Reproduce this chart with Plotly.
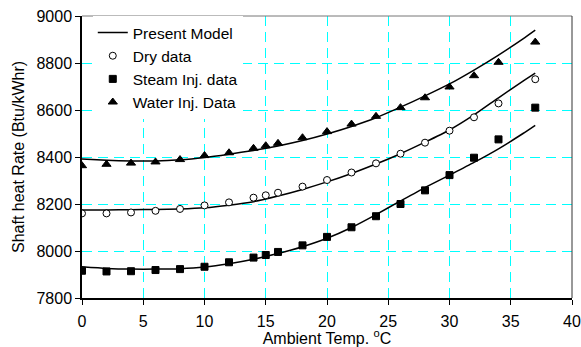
import plotly.graph_objects as go

# Data
temp_data = [0, 2, 4, 6, 8, 10, 12, 14, 15, 16, 18, 20, 22, 24, 26, 28, 30, 32, 34, 37]
dry_data = [8160, 8160, 8164, 8171, 8179, 8194, 8207, 8227, 8237, 8248,
            8274, 8302, 8334, 8373, 8414, 8461, 8512, 8569, 8628, 8731]
steam_data = [7916, 7913, 7914, 7919, 7923, 7933, 7952, 7972, 7983, 7996,
              8024, 8060, 8101, 8148, 8200, 8258, 8323, 8397, 8475, 8610]
water_data = [8363, 8369, 8374, 8379, 8389, 8406, 8418, 8437, 8448, 8458,
              8482, 8508, 8540, 8573, 8610, 8652, 8698, 8746, 8803, 8889]

temp_model = [0, 2, 4, 6, 8, 10, 12, 14, 16, 18, 20, 22, 24, 26, 28, 30, 32, 34, 36, 37]
dry_model = [8174, 8175, 8176, 8177, 8179, 8184, 8195, 8210, 8234, 8262,
             8294, 8330, 8370, 8414, 8463, 8515, 8579, 8652, 8723, 8757]
steam_model = [7933, 7926, 7923, 7923, 7925, 7932, 7946, 7965, 7989, 8018,
               8054, 8100, 8155, 8213, 8270, 8323, 8377, 8435, 8500, 8535]
water_model = [8391, 8386, 8383, 8383, 8388, 8398, 8412, 8428, 8447, 8470,
               8498, 8530, 8567, 8612, 8660, 8711, 8770, 8834, 8903, 8940]

x_ticks = [0, 5, 10, 15, 20, 25, 30, 35, 40]
y_ticks = [7800, 8000, 8200, 8400, 8600, 8800, 9000]

FONT = "Liberation Sans, Arial, sans-serif"
fig = go.Figure()

for i, ym in enumerate([water_model, dry_model, steam_model]):
    fig.add_trace(go.Scatter(x=temp_model, y=ym, mode="lines",
                             line=dict(color="black", width=1.5, shape="spline", smoothing=0.6),
                             name="Present Model", showlegend=(i == 0),
                             legendrank=1))

fig.add_trace(go.Scatter(x=temp_data, y=dry_data, mode="markers", name="Dry data",
                         marker=dict(symbol="circle", size=7, color="white",
                                     line=dict(color="black", width=1)), legendrank=2))
fig.add_trace(go.Scatter(x=temp_data, y=steam_data, mode="markers", name="Steam Inj. data",
                         marker=dict(symbol="square", size=7, color="black",
                                     line=dict(color="black", width=1)), legendrank=3))
fig.add_trace(go.Scatter(x=temp_data, y=water_data, mode="markers", name="Water Inj. Data",
                         marker=dict(symbol="triangle-up", size=8, color="black",
                                     line=dict(color="black", width=1)), legendrank=4))

fig.update_layout(
    width=581, height=347,
    margin=dict(l=82, r=9, t=16, b=49),
    paper_bgcolor="white", plot_bgcolor="white",
    font=dict(family=FONT, size=16, color="black"),
    legend=dict(x=0.022, y=1.0, xanchor="left", yanchor="top",
                bgcolor="white", borderwidth=0, font=dict(size=15.5),
                tracegroupgap=0, itemwidth=30),
    shapes=[
        dict(type="line", xref="paper", yref="paper", x0=0, x1=1, y0=1, y1=1,
             line=dict(color="#777777", width=1)),
        dict(type="line", xref="paper", yref="paper", x0=1, x1=1, y0=0, y1=1,
             line=dict(color="#333333", width=1)),
    ],
)

fig.update_xaxes(range=[0, 40], tickvals=x_ticks, ticks="outside", ticklen=5,
                 tickcolor="black", showline=True, linecolor="black", linewidth=1.5,
                 showgrid=True, gridcolor="#00FFFF", gridwidth=1, griddash="10px,6px",
                 zeroline=False, tickfont=dict(size=16), ticklabelstandoff=3,
                 automargin=False,
                 title=dict(text="Ambient Temp. <sup>o</sup>C", font=dict(size=16), standoff=4))
fig.update_yaxes(range=[7800, 9000], tickvals=y_ticks, ticks="outside", ticklen=5,
                 tickcolor="black", showline=True, linecolor="black", linewidth=1.5,
                 showgrid=True, gridcolor="#00FFFF", gridwidth=1, griddash="10px,6px",
                 zeroline=False, tickfont=dict(size=16), automargin=False,
                 title=dict(text="Shaft heat Rate (Btu/kWhr)", font=dict(size=16), standoff=8))

fig.write_html("out.html")
